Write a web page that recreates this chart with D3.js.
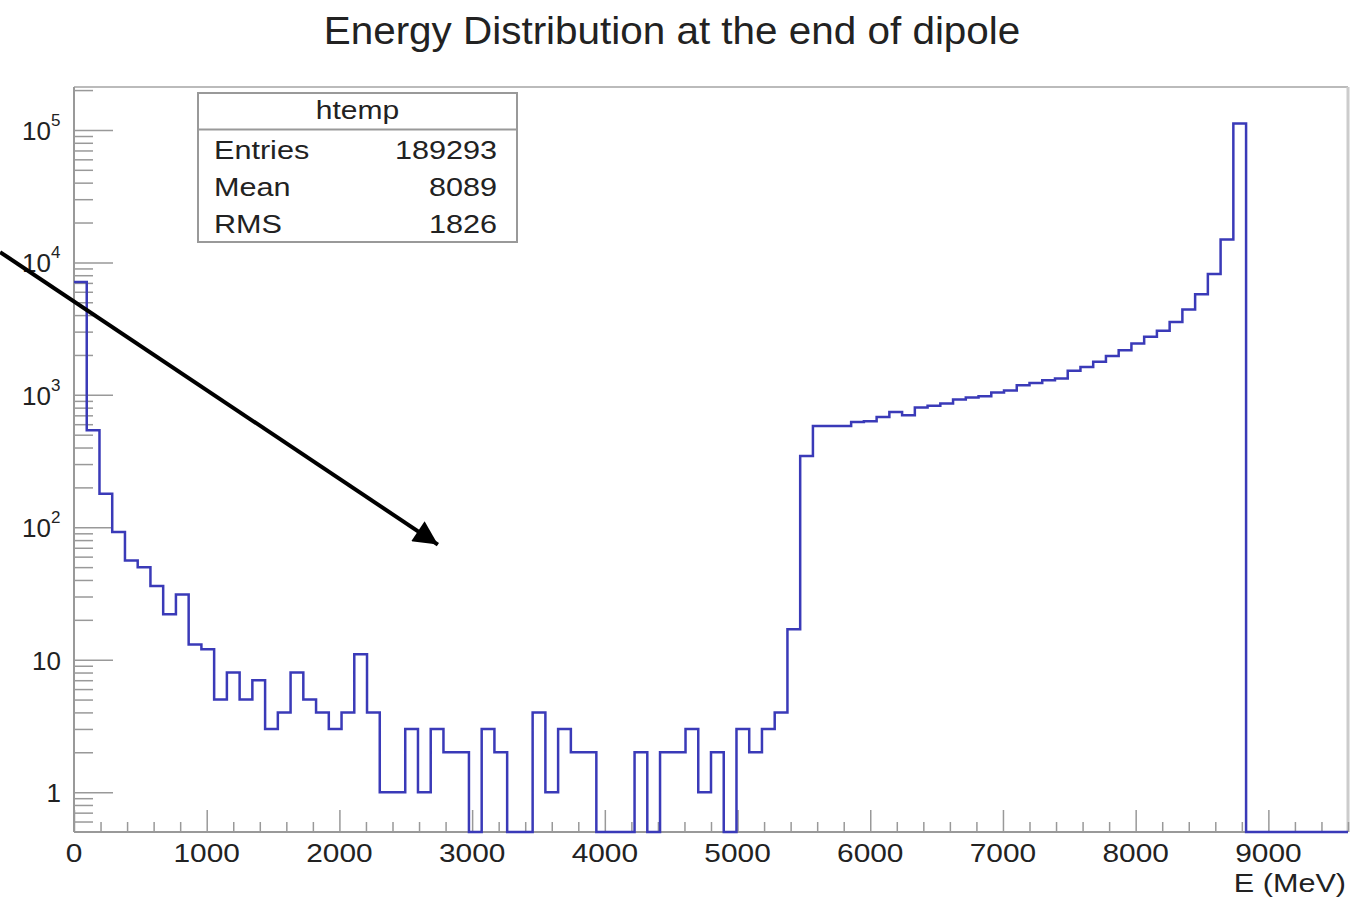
<!DOCTYPE html>
<html>
<head>
<meta charset="utf-8">
<script src="https://cdn.jsdelivr.net/npm/d3@7"></script>
<style>
  body { margin: 0; background: #fff; }
  text { font-family: "Liberation Sans", Arial, sans-serif; fill: #222; }
</style>
</head>
<body>
<div id="chart"></div>
<script>
// frame constants
const FRAME_WIDTH = 1361;
const FRAME_HEIGHT = 900;
const MARGINS = {left: 74, right: 13, top: 87, bottom: 68};

// histogram data: 100 bins, 0 - 9600 MeV
const BIN_WIDTH = 96;
const X_MAX = 9600;
const counts = [
  7100, 540, 179, 92, 56, 50, 36, 22, 31, 13,
  12, 5, 8, 5, 7, 3, 4, 8, 5, 4,
  3, 4, 11, 4, 1, 1, 3, 1, 3, 2,
  2, 0, 3, 2, 0, 0, 4, 1, 3, 2,
  2, 0, 0, 0, 2, 0, 2, 2, 3, 1,
  2, 0, 3, 2, 3, 4, 17, 345, 582, 582,
  582, 623, 631, 680, 743, 700, 802, 826, 859, 922,
  955, 975, 1040, 1080, 1183, 1230, 1290, 1330, 1517, 1620,
  1775, 1968, 2170, 2440, 2740, 3050, 3550, 4410, 5750, 8160,
  14900, 112000, 0, 0, 0, 0, 0, 0, 0, 0
];

// axis ticks
const xMajorTicks = [0, 1000, 2000, 3000, 4000, 5000, 6000, 7000, 8000, 9000];
const yDecades = [1, 10, 100, 1000, 10000, 100000];
const yDecadeLabels = [["1", ""], ["10", ""], ["10", "2"], ["10", "3"], ["10", "4"], ["10", "5"]];

// stats box
const statNames = ["Entries", "Mean", "RMS"];
const statValues = ["189293", "8089", "1826"];

// annotation arrow in data coordinates [E, count]
const arrowFrom = [-557, 11970];
const arrowTo = [2742, 74];

const Y_MIN = 0.5, Y_MAX = 2.11e5;

const svg = d3.select("#chart").append("svg")
  .attr("width", FRAME_WIDTH)
  .attr("height", FRAME_HEIGHT);

const xScale = d3.scaleLinear()
  .domain([0, X_MAX])
  .range([MARGINS.left, FRAME_WIDTH - MARGINS.right]);

const yScale = d3.scaleLog()
  .domain([Y_MIN, Y_MAX])
  .range([FRAME_HEIGHT - MARGINS.bottom, MARGINS.top]);

const axisColor = "#999";

// text with a small horizontal stretch, like the original canvas
function wideText(sel, x, y, sx) {
  return sel.attr("transform", "translate(" + x + "," + y + ") scale(" + sx + ",1)");
}

// frame top and right
svg.append("line")
  .attr("x1", xScale(0)).attr("x2", xScale(X_MAX))
  .attr("y1", yScale(Y_MAX)).attr("y2", yScale(Y_MAX))
  .attr("stroke", "#bbb").attr("stroke-width", 2);
svg.append("line")
  .attr("x1", xScale(X_MAX)).attr("x2", xScale(X_MAX))
  .attr("y1", yScale(Y_MAX)).attr("y2", yScale(Y_MIN))
  .attr("stroke", "#ccc").attr("stroke-width", 3);

// x axis: major ticks every 1000, minor every 200
const xMinor = d3.range(0, X_MAX + 1, 200).filter(v => v % 1000 !== 0);
svg.append("g")
  .attr("transform", "translate(0," + yScale(Y_MIN) + ")")
  .call(d3.axisTop(xScale).tickValues(xMinor).tickSize(10).tickFormat(""))
  .call(g => g.select(".domain").remove())
  .call(g => g.selectAll("line").attr("stroke", axisColor).attr("stroke-width", 1.5));
const xAxis = svg.append("g")
  .attr("transform", "translate(0," + yScale(Y_MIN) + ")")
  .call(d3.axisTop(xScale).tickValues(xMajorTicks).tickSize(22).tickSizeOuter(0).tickFormat(""));
xAxis.select(".domain").attr("stroke", axisColor).attr("stroke-width", 2)
  .attr("d", "M" + xScale(0) + ",0H" + xScale(X_MAX));
xAxis.selectAll("line").attr("stroke", axisColor).attr("stroke-width", 1.5);

svg.append("g").selectAll("text")
  .data(xMajorTicks)
  .enter().append("text")
  .each(function(d) { wideText(d3.select(this), xScale(d), yScale(Y_MIN) + 30, 1.17); })
  .attr("text-anchor", "middle")
  .attr("font-size", 25.5)
  .text(d => d);

wideText(svg.append("text"), xScale(X_MAX) - 2, 892, 1.2)
  .attr("text-anchor", "end")
  .attr("font-size", 25.5)
  .text("E (MeV)");

// y axis: log with minor ticks
const yMinor = [];
[0.1, 1, 10, 100, 1000, 10000, 100000].forEach(dec => {
  for (let k = 2; k <= 9; k++) {
    const v = dec * k;
    if (v > Y_MIN && v < Y_MAX) yMinor.push(v);
  }
});
svg.append("g")
  .attr("transform", "translate(" + xScale(0) + ",0)")
  .call(d3.axisRight(yScale).tickValues(yMinor).tickSize(19).tickFormat(""))
  .call(g => g.select(".domain").remove())
  .call(g => g.selectAll("line").attr("stroke", axisColor).attr("stroke-width", 1.5));
const yAxis = svg.append("g")
  .attr("transform", "translate(" + xScale(0) + ",0)")
  .call(d3.axisRight(yScale).tickValues(yDecades).tickSize(39).tickSizeOuter(0).tickFormat(""));
yAxis.select(".domain").attr("stroke", axisColor).attr("stroke-width", 2)
  .attr("d", "M0," + yScale(Y_MIN) + "V" + yScale(Y_MAX));
yAxis.selectAll("line").attr("stroke", axisColor).attr("stroke-width", 1.5);

svg.append("g").selectAll("text")
  .data(yDecades)
  .enter().append("text")
  .attr("x", (d, i) => yDecadeLabels[i][1] ? 51 : 61)
  .attr("y", d => yScale(d) + 10)
  .attr("text-anchor", "end")
  .attr("font-size", 26)
  .text((d, i) => yDecadeLabels[i][0]);
svg.append("g").selectAll("text")
  .data(yDecades.filter((d, i) => yDecadeLabels[i][1]))
  .enter().append("text")
  .attr("x", 51)
  .attr("y", d => yScale(d) - 4)
  .attr("font-size", 17)
  .text(d => yDecadeLabels[yDecades.indexOf(d)][1]);

// histogram outline (step)
const pts = [];
counts.forEach((c, i) => {
  const v = Math.max(c, Y_MIN);
  pts.push([i * BIN_WIDTH, v]);
  pts.push([(i + 1) * BIN_WIDTH, v]);
});
const line = d3.line()
  .x(d => xScale(d[0]))
  .y(d => yScale(d[1]));
svg.append("path")
  .datum(pts)
  .attr("d", line)
  .attr("fill", "none")
  .attr("stroke", "#3a3ab8")
  .attr("stroke-width", 2.5)
  .attr("stroke-linejoin", "miter");

// stats box
const box = {x: 198, y: 93, w: 319, h: 149};
const sb = svg.append("g");
sb.append("rect")
  .attr("x", box.x).attr("y", box.y)
  .attr("width", box.w).attr("height", box.h)
  .attr("fill", "#fff").attr("stroke", "#999").attr("stroke-width", 2);
sb.append("line")
  .attr("x1", box.x).attr("x2", box.x + box.w)
  .attr("y1", 129.5).attr("y2", 129.5)
  .attr("stroke", "#999").attr("stroke-width", 2);
wideText(sb.append("text"), box.x + box.w / 2, 119, 1.2)
  .attr("text-anchor", "middle").attr("font-size", 25)
  .text("htemp");
sb.selectAll("text.name")
  .data(statNames)
  .enter().append("text")
  .attr("class", "name")
  .each(function(d, i) { wideText(d3.select(this), 214, 159 + i * 37.2, 1.2); })
  .attr("font-size", 25.5)
  .text(d => d);
sb.selectAll("text.val")
  .data(statValues)
  .enter().append("text")
  .attr("class", "val")
  .each(function(d, i) { wideText(d3.select(this), 497, 159 + i * 37.2, 1.2); })
  .attr("text-anchor", "end")
  .attr("font-size", 25.5)
  .text(d => d);

// title
wideText(svg.append("text"), 672, 44, 1.05)
  .attr("text-anchor", "middle")
  .attr("font-size", 38.5)
  .text("Energy Distribution at the end of dipole");

// annotation arrow
svg.append("defs").append("marker")
  .attr("id", "head")
  .attr("viewBox", "0 0 10 10")
  .attr("refX", 10).attr("refY", 5)
  .attr("markerWidth", 7).attr("markerHeight", 6)
  .attr("markerUnits", "strokeWidth")
  .attr("orient", "auto")
  .append("path").attr("d", "M0,0L10,5L0,10Z").attr("fill", "#000");
svg.append("line")
  .attr("x1", xScale(arrowFrom[0])).attr("y1", yScale(arrowFrom[1]))
  .attr("x2", xScale(arrowTo[0])).attr("y2", yScale(arrowTo[1]))
  .attr("stroke", "#000").attr("stroke-width", 4)
  .attr("marker-end", "url(#head)");
</script>
</body>
</html>
